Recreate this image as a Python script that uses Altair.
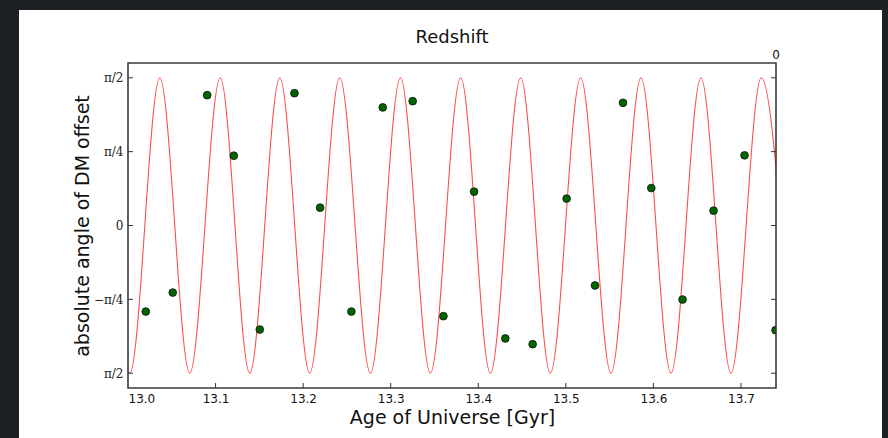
import math
import altair as alt
import pandas as pd

# Sampled offset angles (radians) against cosmic age (Gyr)
age_gyr = [13.0203, 13.0511, 13.0904, 13.1208, 13.1505, 13.1901, 13.2194, 13.2551,
           13.2909, 13.3251, 13.3602, 13.3952, 13.4309, 13.4621, 13.5009, 13.5333,
           13.5653, 13.5976, 13.6333, 13.6687, 13.7041, 13.7395]
angle_rad = [-0.915, -0.713, 1.386, 0.742, -1.106, 1.407, 0.190, -0.915,
             1.256, 1.322, -0.964, 0.360, -1.201, -1.262, 0.286, -0.638,
             1.305, 0.398, -0.787, 0.158, 0.746, -1.113]

# Crests and troughs of the reference oscillation (Gyr)
crest_t = [12.9677, 13.0363, 13.1053, 13.1733, 13.2418, 13.3111, 13.3799,
           13.4484, 13.5169, 13.5858, 13.6543, 13.7232]
trough_t = [13.0021, 13.0705, 13.1390, 13.2075, 13.2768, 13.3453, 13.4138,
            13.4823, 13.5516, 13.6201, 13.6886, 13.7572]
amplitude = math.pi / 2

y_tick_values = [-math.pi / 2, -math.pi / 4, 0.0, math.pi / 4, math.pi / 2]
x_tick_values = [13.1, 13.2, 13.3, 13.4, 13.5, 13.6, 13.7]

W, H = 648, 325
X_DOMAIN = [13.0, 13.74]
Y_DOMAIN = [-1.728, 1.728]

points = pd.DataFrame({"age": age_gyr, "angle": angle_rad})
wave = pd.DataFrame(
    {"age": crest_t + trough_t,
     "angle": [amplitude] * len(crest_t) + [-amplitude] * len(trough_t)}
).sort_values("age")
yticks = pd.DataFrame({"angle": y_tick_values})
xticks = pd.DataFrame({"age": x_tick_values})
one = pd.DataFrame({"k": [0]})

xscale = alt.Scale(domain=X_DOMAIN, nice=False, zero=False)
yscale = alt.Scale(domain=Y_DOMAIN, nice=False, zero=False)

y_label_expr = (
    "datum.value > 1.5 ? 'π/2' : datum.value > 0.5 ? 'π/4' : "
    "datum.value > -0.5 ? '0' : datum.value > -1.5 ? '−π/4' : 'π/2'"
)

x_axis = alt.Axis(
    values=[13.0] + x_tick_values, format=".1f", ticks=False, domain=False, grid=False,
    labelFont="DejaVu Sans", labelFontSize=12, labelColor="#111", labelPadding=5,
    title="Age of Universe [Gyr]", titleFont="DejaVu Sans", titleFontSize=19,
    titleFontWeight="normal", titleColor="#111", titleY=35, titleBaseline="alphabetic",
    zindex=1,
)
y_axis = alt.Axis(
    values=y_tick_values, labelExpr=y_label_expr, ticks=False, domain=False, grid=False,
    labelFont="DejaVu Serif", labelFontSize=12, labelColor="#222", labelPadding=5,
    title="absolute angle of DM offset", titleFont="DejaVu Sans", titleFontSize=19,
    titleFontWeight="normal", titleColor="#111", titleX=-46, titleY=H / 2,
    titleAngle=-90, titleAlign="center", titleBaseline="middle", zindex=1,
)

wave_line = alt.Chart(wave).mark_line(
    color="#ff2020", strokeWidth=1.1, opacity=0.8, interpolate="monotone", clip=True
).encode(
    x=alt.X("age:Q", scale=xscale, axis=x_axis),
    y=alt.Y("angle:Q", scale=yscale, axis=y_axis),
)

dots = alt.Chart(points).mark_point(
    shape="circle", filled=True, fill="#006400", stroke="#111", strokeWidth=0.8,
    size=60, opacity=1, clip=True
).encode(
    x=alt.X("age:Q", scale=xscale),
    y=alt.Y("angle:Q", scale=yscale),
)

tick_style = dict(color="#333", strokeWidth=1)
left_ticks = alt.Chart(yticks).mark_rule(**tick_style).encode(
    y=alt.Y("angle:Q", scale=yscale), x=alt.value(0), x2=alt.value(5))
right_ticks = alt.Chart(yticks).mark_rule(**tick_style).encode(
    y=alt.Y("angle:Q", scale=yscale), x=alt.value(W - 5), x2=alt.value(W))
bottom_ticks = alt.Chart(xticks).mark_rule(**tick_style).encode(
    x=alt.X("age:Q", scale=xscale), y=alt.value(H - 5), y2=alt.value(H))

frame = alt.Chart(one).mark_rect(
    fillOpacity=0, stroke="#3a3a3a", strokeWidth=1.6
).encode(x=alt.value(0), x2=alt.value(W), y=alt.value(0), y2=alt.value(H))

offset_text = alt.Chart(one).mark_text(
    text="0", font="DejaVu Sans", fontSize=12, color="#111",
    align="center", baseline="alphabetic"
).encode(x=alt.value(W), y=alt.value(-4))

title_text = alt.Chart(one).mark_text(
    text="Redshift", font="DejaVu Sans", fontSize=18, color="#111",
    align="center", baseline="alphabetic"
).encode(x=alt.value(W / 2), y=alt.value(-20))

# dark slide border around the white panel
slide = "#1c2024"
border_left = alt.Chart(one).mark_rect(color=slide, clip=False).encode(
    x=alt.value(-128), x2=alt.value(-109), y=alt.value(-63), y2=alt.value(H + 50))
border_top = alt.Chart(one).mark_rect(color=slide, clip=False).encode(
    x=alt.value(-128), x2=alt.value(W + 112), y=alt.value(-63), y2=alt.value(-53))
border_right = alt.Chart(one).mark_rect(color=slide, clip=False).encode(
    x=alt.value(754), x2=alt.value(W + 112), y=alt.value(-63), y2=alt.value(H + 50))

chart = alt.layer(
    wave_line, dots, left_ticks, right_ticks, bottom_ticks, frame, offset_text,
    title_text, border_left, border_top, border_right,
).properties(
    width=W, height=H,
    autosize=alt.AutoSizeParams(type="none"),
    padding={"left": 128, "top": 63, "right": 112, "bottom": 50},
    background="white",
).configure_view(strokeWidth=0, fill="white")

chart.save("out.html", embed_options={"renderer": "svg", "actions": False})
